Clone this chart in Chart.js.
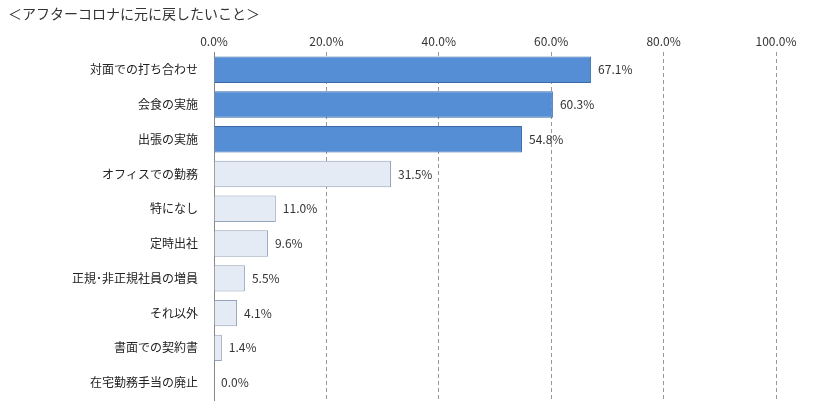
<!DOCTYPE html>
<html><head><meta charset="utf-8">
<script src="https://cdn.jsdelivr.net/npm/chart.js@4"></script>
<style>body{margin:0;background:#fff;font-family:"Noto Sans CJK JP";}
#t{position:absolute;left:8px;top:3px;font-size:14px;color:#333;}
#w{position:absolute;left:0;top:0;width:820px;height:420px;}</style>
</head><body>
<div id="w"><canvas id="c"></canvas></div>
<div id="t">＜アフターコロナに元に戻したいこと＞</div>
<script>
const categories=["対面での打ち合わせ","会食の実施","出張の実施","オフィスでの勤務","特になし","定時出社","正規･非正規社員の増員","それ以外","書面での契約書","在宅勤務手当の廃止"];
const values=[67.1,60.3,54.8,31.5,11.0,9.6,5.5,4.1,1.4,0.0];
const tickLabels=["0.0%","20.0%","40.0%","60.0%","80.0%","100.0%"];
const fill=values.map((v,i)=>i<3?"#558ED5":"#E4EBF5");
const border=values.map((v,i)=>i<3?"#3A6BA8":"#95A3BC");
const labelPlugin={id:"lbl",afterDatasetsDraw(ch){const ctx=ch.ctx;const m=ch.getDatasetMeta(0);ctx.save();ctx.font='12px "Noto Sans CJK JP"';ctx.fillStyle="#333";ctx.textBaseline="middle";
m.data.forEach((b,i)=>{ctx.fillText(values[i].toFixed(1)+"%",b.x+7,b.y);});ctx.restore();}};
new Chart(document.getElementById("c"),{type:"bar",data:{labels:categories,datasets:[{data:values,backgroundColor:fill,borderColor:border,borderWidth:1,categoryPercentage:1,barPercentage:0.76}]},
options:{indexAxis:"y",responsive:true,maintainAspectRatio:false,animation:false,
layout:{padding:{top:30,right:44,bottom:20,left:0}},
plugins:{legend:{display:false},tooltip:{enabled:false}},
scales:{x:{position:"top",min:0,max:100,afterBuildTicks(a){a.ticks=[0,20,40,60,80,100].map(v=>({value:v}));},
ticks:{callback:(v,i)=>tickLabels[i],color:"#333",font:{family:"Noto Sans CJK JP",size:12},padding:4},
grid:{color:(c)=>c.index===0?"#888":"#999",drawTicks:false,tickLength:0},border:{display:false,dash:[4,3]}},
y:{ticks:{color:"#222",font:{family:"Noto Sans CJK JP",size:12},padding:8},grid:{display:false},border:{display:true,color:"#888"},afterFit(a){a.width=214;}}}},
plugins:[labelPlugin,{id:"dash",beforeDraw(ch){ch.options.scales.x.grid.borderDash=[4,3];}}]});
</script></body></html>
